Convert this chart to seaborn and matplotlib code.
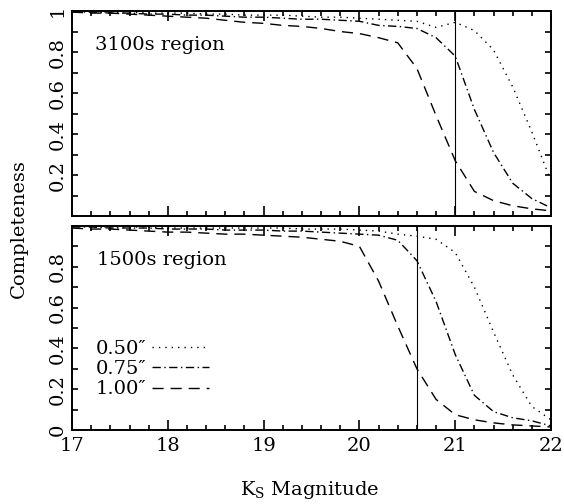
import seaborn as sns
import matplotlib.pyplot as plt
import pandas as pd
from matplotlib.ticker import MultipleLocator, FixedLocator, FixedFormatter

# K_S magnitude bins
mags = [17.0, 17.2, 17.4, 17.6, 17.8, 18.0, 18.2, 18.4, 18.6, 18.8,
        19.0, 19.2, 19.4, 19.6, 19.8, 20.0, 20.2, 20.4, 20.6, 20.8,
        21.0, 21.2, 21.4, 21.6, 21.8, 22.0]

seeing = ['0.50″', '0.75″', '1.00″']

# 3100s region completeness
deep_050 = [1.0, 1.0, 0.995, 0.995, 0.99, 0.99, 0.99, 0.985, 0.985, 0.98,
            0.98, 0.98, 0.975, 0.97, 0.97, 0.965, 0.96, 0.955, 0.95, 0.92,
            0.945, 0.905, 0.81, 0.63, 0.41, 0.17]
deep_075 = [0.995, 0.995, 0.99, 0.99, 0.985, 0.985, 0.98, 0.98, 0.975, 0.97,
            0.97, 0.965, 0.96, 0.96, 0.955, 0.95, 0.93, 0.925, 0.915, 0.87,
            0.78, 0.52, 0.31, 0.16, 0.085, 0.04]
deep_100 = [0.995, 0.99, 0.99, 0.985, 0.98, 0.975, 0.97, 0.965, 0.955, 0.945,
            0.94, 0.93, 0.925, 0.915, 0.90, 0.89, 0.87, 0.845, 0.72, 0.49,
            0.27, 0.12, 0.075, 0.05, 0.035, 0.025]

# 1500s region completeness
shal_050 = [1.0, 1.0, 0.995, 0.995, 0.995, 0.99, 0.99, 0.99, 0.99, 0.99,
            0.99, 0.99, 0.985, 0.985, 0.985, 0.98, 0.975, 0.96, 0.95, 0.935,
            0.87, 0.70, 0.48, 0.27, 0.115, 0.05]
shal_075 = [0.995, 0.995, 0.99, 0.99, 0.99, 0.985, 0.985, 0.985, 0.98, 0.98,
            0.98, 0.975, 0.975, 0.97, 0.965, 0.96, 0.955, 0.93, 0.83, 0.63,
            0.37, 0.17, 0.09, 0.06, 0.045, 0.02]
shal_100 = [0.99, 0.985, 0.985, 0.98, 0.975, 0.97, 0.97, 0.965, 0.96, 0.96,
            0.955, 0.95, 0.945, 0.935, 0.925, 0.90, 0.73, 0.51, 0.30, 0.15,
            0.075, 0.05, 0.035, 0.025, 0.02, 0.015]

deep_limit = 21.0
shal_limit = 20.6


def long_df(cols):
    frames = []
    for lab, vals in zip(seeing, cols):
        frames.append(pd.DataFrame({'mag': mags, 'comp': vals, 'seeing': lab}))
    return pd.concat(frames, ignore_index=True)


deep = long_df([deep_050, deep_075, deep_100])
shal = long_df([shal_050, shal_075, shal_100])

sns.set_theme(style='ticks', rc={'axes.edgecolor': 'black', 'axes.linewidth': 1.4,
                                 'xtick.color': 'black', 'ytick.color': 'black',
                                 'text.color': 'black', 'axes.labelcolor': 'black'})
plt.rcParams['font.family'] = ['DejaVu Serif']
plt.rcParams['mathtext.fontset'] = 'dejavuserif'

fs = 14
dashes = {'0.50″': (1, 3.6), '0.75″': (6, 2.5, 1, 2.5), '1.00″': (8, 5)}

fig = plt.figure(figsize=(5.64, 5.04), dpi=100)
ax1 = fig.add_axes([0.1277, 0.5714, 0.8493, 0.4067])
ax2 = fig.add_axes([0.1277, 0.1468, 0.8493, 0.4048])

for ax, df, lim in [(ax1, deep, deep_limit), (ax2, shal, shal_limit)]:
    sns.lineplot(data=df, x='mag', y='comp', style='seeing', dashes=dashes,
                 color='black', lw=1.0, ax=ax, legend=(ax is ax2))
    ax.axvline(lim, color='black', lw=0.8)
    ax.set_xlim(17, 22)
    ax.set_ylim(0, 1)
    ax.set_xlabel('')
    ax.set_ylabel('')
    ax.xaxis.set_major_locator(MultipleLocator(1))
    ax.xaxis.set_minor_locator(MultipleLocator(0.2))
    ax.yaxis.set_minor_locator(MultipleLocator(0.1))
    ax.tick_params(which='both', direction='in', top=True, right=True, labelsize=fs)
    ax.tick_params(axis='x', which='major', length=7, width=1.2, pad=5)
    ax.tick_params(axis='x', which='minor', length=3.5, width=1.2)
    ax.tick_params(axis='y', which='major', length=4.5, width=1.2, pad=4)
    ax.tick_params(axis='y', which='minor', length=4.5, width=1.2)

ax1.yaxis.set_major_locator(FixedLocator([0.2, 0.4, 0.6, 0.8, 1.0]))
ax1.yaxis.set_major_formatter(FixedFormatter(['0.2', '0.4', '0.6', '0.8', '1']))
ax1.tick_params(axis='x', labelbottom=False)
ax2.yaxis.set_major_locator(FixedLocator([0, 0.2, 0.4, 0.6, 0.8]))
ax2.yaxis.set_major_formatter(FixedFormatter(['0', '0.2', '0.4', '0.6', '0.8']))
ax2.set_xticks([17, 18, 19, 20, 21, 22])
ax2.set_xticklabels(['17', '18', '19', '20', '21', '22'])

for ax in (ax1, ax2):
    plt.setp(ax.get_yticklabels(), rotation=90, va='center')

ax1.text(0.048, 0.834, '3100s region', transform=ax1.transAxes, fontsize=fs, va='center')
ax2.text(0.052, 0.833, '1500s region', transform=ax2.transAxes, fontsize=fs, va='center')

handles, labels = ax2.get_legend_handles_labels()
ax2.legend(handles, labels, loc='lower left', bbox_to_anchor=(0.05, 0.155),
           frameon=False, markerfirst=False, fontsize=fs, handlelength=2.9,
           handletextpad=0.3, labelspacing=0.12, borderpad=0, borderaxespad=0)

fig.text(0.034, 0.546, 'Completeness', rotation=90, ha='center', va='center', fontsize=fs)
fig.text(0.548, 0.028, r'K$_\mathrm{S}$ Magnitude', ha='center', va='center', fontsize=fs)

fig.savefig('out.png', dpi=100)
